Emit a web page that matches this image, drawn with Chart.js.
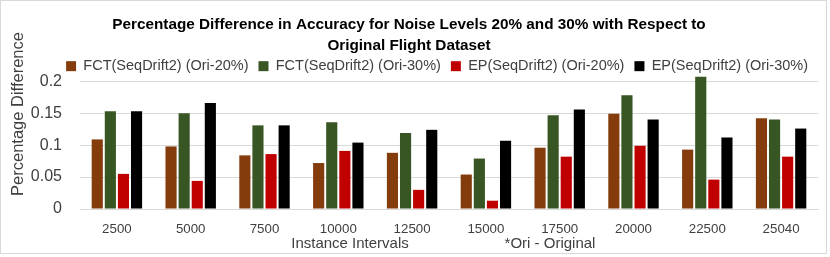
<!DOCTYPE html>
<html>
<head>
<meta charset="utf-8">
<script src="https://cdn.jsdelivr.net/npm/chart.js@4.4.1/dist/chart.umd.min.js"></script>
<style>
  html, body { margin: 0; padding: 0; background: #fff; }
  #wrap { width: 830px; height: 257px; position: relative; }
</style>
</head>
<body>
<div id="wrap"><canvas id="chart" width="830" height="257"></canvas></div>
<script>
// instance intervals on the x axis
const categories = ['2500', '5000', '7500', '10000', '12500', '15000', '17500', '20000', '22500', '25040'];

// percentage difference values
const fct20 = [0.109, 0.098, 0.084, 0.072, 0.088, 0.054, 0.096, 0.149, 0.093, 0.142];
const fct30 = [0.153, 0.150, 0.131, 0.136, 0.119, 0.079, 0.147, 0.178, 0.207, 0.140];
const ep20  = [0.055, 0.044, 0.086, 0.091, 0.030, 0.013, 0.082, 0.099, 0.046, 0.082];
const ep30  = [0.153, 0.166, 0.131, 0.104, 0.124, 0.107, 0.156, 0.140, 0.112, 0.126];

const seriesLabels = [
  'FCT(SeqDrift2) (Ori-20%)',
  'FCT(SeqDrift2) (Ori-30%)',
  'EP(SeqDrift2) (Ori-20%)',
  'EP(SeqDrift2) (Ori-30%)'
];
const yTickValues = [0, 0.05, 0.1, 0.15, 0.2];

const FONT = "'Liberation Sans', Arial, sans-serif";
const colors = ['#843C0C', '#375623', '#C00000', '#000000'];

// frame + free-standing texts (axis titles, footnote)
const extras = {
  id: 'extras',
  afterInit(chart) {
    // legend sits tighter on the plot than chart.js leaves by default
    const lg = chart.legend;
    if (lg) {
      const fit = lg.fit;
      lg.fit = function () { fit.call(this); this.height -= 8.5; };
    }
  },
  beforeDraw(chart) {
    const c = chart.ctx;
    c.save();
    c.fillStyle = '#fff';
    c.fillRect(0, 0, chart.width, chart.height);
    c.strokeStyle = '#d9d9d9';
    c.lineWidth = 1;
    c.strokeRect(0.5, 0.5, 826, 253);
    c.restore();
  },
  afterDraw(chart) {
    const c = chart.ctx;
    c.save();
    c.fillStyle = '#404040';
    c.textAlign = 'center';
    c.textBaseline = 'middle';
    c.font = '15px ' + FONT;
    c.fillText('Instance Intervals', 350, 244);
    c.fillText('*Ori - Original', 550, 244);
    c.translate(18, 114);
    c.rotate(-Math.PI / 2);
    c.font = '16.5px ' + FONT;
    c.fillText('Percentage Difference', 0, 0);
    c.restore();
  }
};

const data = [fct20, fct30, ep20, ep30];

new Chart(document.getElementById('chart'), {
  type: 'bar',
  data: {
    labels: categories,
    datasets: data.map((vals, i) => ({
      label: seriesLabels[i],
      data: vals,
      backgroundColor: colors[i],
      borderWidth: 0,
      barPercentage: 0.85,
      categoryPercentage: 0.71
    }))
  },
  options: {
    responsive: false,
    animation: false,
    devicePixelRatio: 1,
    layout: { padding: { left: 0, right: 12, top: 0, bottom: 0 } },
    plugins: {
      title: {
        display: true,
        text: ['Percentage Difference in Accuracy for Noise Levels 20% and 30% with Respect to', 'Original Flight Dataset'],
        color: '#000',
        font: { family: "'Liberation Sans Narrow', 'Liberation Sans', sans-serif", size: 15.3, weight: 'bold', lineHeight: 1.37 },
        padding: { top: 14, bottom: -7 }
      },
      legend: {
        position: 'top',
        align: 'end',
        labels: {
          color: '#404040',
          font: { family: FONT, size: 14.5 },
          boxWidth: 10,
          boxHeight: 10,
          padding: 10
        }
      },
      tooltip: { enabled: false }
    },
    scales: {
      x: {
        grid: { display: false, drawTicks: false },
        border: { color: '#d9d9d9' },
        ticks: { color: '#404040', font: { family: FONT, size: 13.3 }, padding: 12, maxRotation: 0 },
        afterFit: s => { s.height = 48; }
      },
      y: {
        min: 0,
        max: 0.21,
        grid: { color: '#d9d9d9', drawTicks: false },
        border: { display: false },
        ticks: {
          color: '#404040',
          font: { family: FONT, size: 16 },
          padding: 18,
          callback: v => String(+v.toFixed(2))
        },
        afterBuildTicks: s => { s.ticks = yTickValues.map(v => ({ value: v })); },
        afterFit: s => { s.width = 80; }
      }
    }
  },
  plugins: [extras]
});
</script>
</body>
</html>
